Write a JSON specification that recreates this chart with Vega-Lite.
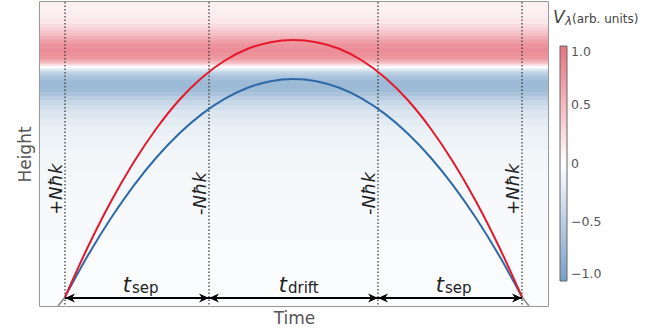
{
  "$schema": "https://vega.github.io/schema/vega-lite/v6.json",
  "width": 508,
  "height": 304,
  "autosize": {"type": "none"},
  "padding": {"left": 40, "top": 2, "right": 119, "bottom": 28},
  "config": {
    "font": "DejaVu Sans",
    "view": {"stroke": "#777", "strokeWidth": 1.5},
    "axis": {"domain": false, "ticks": false, "labels": false, "grid": false, "titleFontSize": 17, "titleFontWeight": "normal", "titleColor": "#555"}
  },
  "datasets": {
    "bands": [
      {"h": 2.96, "h2": 3.04, "v": 0.09},
      {"h": 2.88, "h2": 2.96, "v": 0.12},
      {"h": 2.82, "h2": 2.88, "v": 0.18},
      {"h": 2.79, "h2": 2.82, "v": 0.25},
      {"h": 2.76, "h2": 2.79, "v": 0.32},
      {"h": 2.73, "h2": 2.76, "v": 0.40},
      {"h": 2.70, "h2": 2.73, "v": 0.47},
      {"h": 2.68, "h2": 2.70, "v": 0.55},
      {"h": 2.66, "h2": 2.68, "v": 0.61},
      {"h": 2.64, "h2": 2.66, "v": 0.67},
      {"h": 2.62, "h2": 2.64, "v": 0.72},
      {"h": 2.58, "h2": 2.62, "v": 0.775},
      {"h": 2.54, "h2": 2.58, "v": 0.80},
      {"h": 2.50, "h2": 2.54, "v": 0.79},
      {"h": 2.47, "h2": 2.50, "v": 0.74},
      {"h": 2.45, "h2": 2.47, "v": 0.64},
      {"h": 2.43, "h2": 2.45, "v": 0.50},
      {"h": 2.42, "h2": 2.43, "v": 0.38},
      {"h": 2.41, "h2": 2.42, "v": 0.27},
      {"h": 2.40, "h2": 2.41, "v": 0.16},
      {"h": 2.39, "h2": 2.40, "v": 0.06},
      {"h": 2.38, "h2": 2.39, "v": -0.04},
      {"h": 2.37, "h2": 2.38, "v": -0.13},
      {"h": 2.36, "h2": 2.37, "v": -0.22},
      {"h": 2.35, "h2": 2.36, "v": -0.30},
      {"h": 2.34, "h2": 2.35, "v": -0.37},
      {"h": 2.32, "h2": 2.34, "v": -0.46},
      {"h": 2.30, "h2": 2.32, "v": -0.55},
      {"h": 2.28, "h2": 2.30, "v": -0.62},
      {"h": 2.26, "h2": 2.28, "v": -0.67},
      {"h": 2.22, "h2": 2.26, "v": -0.715},
      {"h": 2.18, "h2": 2.22, "v": -0.725},
      {"h": 2.14, "h2": 2.18, "v": -0.69},
      {"h": 2.10, "h2": 2.14, "v": -0.61},
      {"h": 2.06, "h2": 2.10, "v": -0.51},
      {"h": 2.01, "h2": 2.06, "v": -0.415},
      {"h": 1.96, "h2": 2.01, "v": -0.335},
      {"h": 1.88, "h2": 1.96, "v": -0.265},
      {"h": 1.80, "h2": 1.88, "v": -0.205},
      {"h": 1.70, "h2": 1.80, "v": -0.16},
      {"h": 1.56, "h2": 1.70, "v": -0.125},
      {"h": 1.36, "h2": 1.56, "v": -0.0975},
      {"h": 1.06, "h2": 1.36, "v": -0.075},
      {"h": 0.66, "h2": 1.06, "v": -0.0575},
      {"h": 0.26, "h2": 0.66, "v": -0.0425},
      {"h": 0.00, "h2": 0.26, "v": -0.0325}
    ],
    "red": [
      {"t": 0.25, "h": 0.09}, {"t": 0.4785, "h": 0.59}, {"t": 0.707, "h": 1.04}, {"t": 0.9355, "h": 1.435},
      {"t": 1.164, "h": 1.775}, {"t": 1.3925, "h": 2.06}, {"t": 1.621, "h": 2.285}, {"t": 1.8495, "h": 2.455},
      {"t": 2.078, "h": 2.572}, {"t": 2.3065, "h": 2.638}, {"t": 2.535, "h": 2.66}, {"t": 2.7635, "h": 2.638},
      {"t": 2.992, "h": 2.572}, {"t": 3.2205, "h": 2.455}, {"t": 3.449, "h": 2.285}, {"t": 3.6775, "h": 2.06},
      {"t": 3.906, "h": 1.775}, {"t": 4.1345, "h": 1.435}, {"t": 4.363, "h": 1.04}, {"t": 4.5915, "h": 0.59},
      {"t": 4.82, "h": 0.09}
    ],
    "blue": [
      {"t": 0.25, "h": 0.09}, {"t": 0.4785, "h": 0.504}, {"t": 0.707, "h": 0.875}, {"t": 0.9355, "h": 1.202},
      {"t": 1.164, "h": 1.485}, {"t": 1.3925, "h": 1.725}, {"t": 1.621, "h": 1.921}, {"t": 1.8495, "h": 2.074},
      {"t": 2.078, "h": 2.183}, {"t": 2.3065, "h": 2.248}, {"t": 2.535, "h": 2.27}, {"t": 2.7635, "h": 2.248},
      {"t": 2.992, "h": 2.183}, {"t": 3.2205, "h": 2.074}, {"t": 3.449, "h": 1.921}, {"t": 3.6775, "h": 1.725},
      {"t": 3.906, "h": 1.485}, {"t": 4.1345, "h": 1.202}, {"t": 4.363, "h": 0.875}, {"t": 4.5915, "h": 0.504},
      {"t": 4.82, "h": 0.09}
    ],
    "gray": [
      {"seg": "a", "t": 0.18, "h": 0.0}, {"seg": "a", "t": 0.25, "h": 0.09},
      {"seg": "b", "t": 4.82, "h": 0.09}, {"seg": "b", "t": 4.89, "h": 0.0}
    ],
    "pulses": [
      {"t": 0.25, "label": "+Nħk"}, {"t": 1.69, "label": "-Nħk"}, {"t": 3.38, "label": "-Nħk"}, {"t": 4.82, "label": "+Nħk"}
    ],
    "arrows": [
      {"t": 0.25, "t2": 1.69, "h": 0.08}, {"t": 1.69, "t2": 3.38, "h": 0.08}, {"t": 3.38, "t2": 4.82, "h": 0.08}
    ],
    "heads": [
      {"t": 0.25, "h": 0.08, "dir": "left"}, {"t": 1.69, "h": 0.08, "dir": "right"},
      {"t": 1.69, "h": 0.08, "dir": "left"}, {"t": 3.38, "h": 0.08, "dir": "right"},
      {"t": 3.38, "h": 0.08, "dir": "left"}, {"t": 4.82, "h": 0.08, "dir": "right"}
    ],
    "tlabels": [
      {"t": 0.91, "h": 0.14, "sub": "sep"}, {"t": 2.47, "h": 0.14, "sub": "drift"}, {"t": 4.04, "h": 0.14, "sub": "sep"}
    ],
    "cbtitle": [
      {"t": 5.13, "h": 2.83, "main": "V", "sub": "λ", "unit": "(arb. units)", "ts": 5.25, "tu": 5.32}
    ]
  },
  "layer": [
    {
      "data": {"name": "bands"},
      "mark": {"type": "rect"},
      "encoding": {
        "y": {"field": "h", "type": "quantitative", "scale": {"domain": [0, 3.04], "nice": false, "zero": false}, "axis": {"title": "Height", "titlePadding": 6}},
        "y2": {"field": "h2"},
        "color": {
          "field": "v", "type": "quantitative",
          "scale": {"domain": [-1, 0, 1], "range": ["#769fc6", "#ffffff", "#e7727f"], "interpolate": "rgb"},
          "legend": {
            "type": "gradient",
            "orient": "none", "legendX": 520, "legendY": 44, "direction": "vertical", "title": null,
            "gradientLength": 235, "gradientThickness": 7, "gradientStrokeColor": "#666", "gradientStrokeWidth": 1,
            "labelExpr": "datum.value == 0 ? '0' : format(datum.value, '.1f')",
            "labelFontSize": 12.5, "labelColor": "#555", "labelOffset": 4,
            "encoding": {"labels": {"enter": {"baseline": {"value": "middle"}}, "update": {"baseline": {"value": "middle"}}}}
          }
        }
      }
    },
    {
      "data": {"name": "gray"},
      "mark": {"type": "line", "color": "#888", "strokeWidth": 1.5},
      "encoding": {
        "x": {"field": "t", "type": "quantitative", "scale": {"domain": [0, 5.08], "nice": false, "zero": false}, "axis": {"title": "Time", "titlePadding": 4}},
        "y": {"field": "h", "type": "quantitative"},
        "detail": {"field": "seg"}
      }
    },
    {
      "data": {"name": "pulses"},
      "mark": {"type": "rule", "color": "#333", "strokeWidth": 1.2, "strokeDash": [1.5, 2]},
      "encoding": {"x": {"field": "t", "type": "quantitative"}}
    },
    {
      "data": {"name": "blue"},
      "mark": {"type": "line", "color": "#2e6aa6", "strokeWidth": 2, "interpolate": "monotone"},
      "encoding": {"x": {"field": "t", "type": "quantitative"}, "y": {"field": "h", "type": "quantitative"}}
    },
    {
      "data": {"name": "red"},
      "mark": {"type": "line", "color": "#e31a2c", "strokeWidth": 2, "interpolate": "monotone"},
      "encoding": {"x": {"field": "t", "type": "quantitative"}, "y": {"field": "h", "type": "quantitative"}}
    },
    {
      "data": {"name": "arrows"},
      "mark": {"type": "rule", "color": "#000", "strokeWidth": 1.8},
      "encoding": {"x": {"field": "t", "type": "quantitative"}, "x2": {"field": "t2"}, "y": {"field": "h", "type": "quantitative"}}
    },
    {
      "data": {"name": "heads"},
      "mark": {"type": "point", "filled": true, "color": "#000", "opacity": 1, "size": 100},
      "encoding": {
        "x": {"field": "t", "type": "quantitative"},
        "y": {"field": "h", "type": "quantitative"},
        "shape": {"field": "dir", "type": "nominal", "scale": {"domain": ["left", "right"], "range": ["M0,0L2,-0.9L1.4,0L2,0.9Z", "M0,0L-2,-0.9L-1.4,0L-2,0.9Z"]}, "legend": null}
      }
    },
    {
      "data": {"name": "pulses"},
      "mark": {"type": "text", "angle": 270, "align": "left", "baseline": "alphabetic", "dy": -3, "fontSize": 18, "fontStyle": "italic", "color": "#222"},
      "encoding": {"x": {"field": "t", "type": "quantitative"}, "y": {"datum": 0.91}, "text": {"field": "label"}}
    },
    {
      "data": {"name": "tlabels"},
      "mark": {"type": "text", "align": "right", "baseline": "alphabetic", "fontSize": 21, "fontStyle": "italic", "color": "#222"},
      "encoding": {"x": {"field": "t", "type": "quantitative"}, "y": {"field": "h", "type": "quantitative"}, "text": {"value": "t"}}
    },
    {
      "data": {"name": "tlabels"},
      "mark": {"type": "text", "align": "left", "baseline": "alphabetic", "dx": 1, "dy": 1, "fontSize": 15, "color": "#222"},
      "encoding": {"x": {"field": "t", "type": "quantitative"}, "y": {"field": "h", "type": "quantitative"}, "text": {"field": "sub"}}
    },
    {
      "data": {"name": "cbtitle"},
      "mark": {"type": "text", "align": "left", "baseline": "alphabetic", "fontSize": 17, "fontStyle": "italic", "color": "#444"},
      "encoding": {"x": {"field": "t", "type": "quantitative"}, "y": {"field": "h", "type": "quantitative"}, "text": {"field": "main"}}
    },
    {
      "data": {"name": "cbtitle"},
      "mark": {"type": "text", "align": "left", "baseline": "alphabetic", "dy": 2, "fontSize": 12, "fontStyle": "italic", "color": "#444"},
      "encoding": {"x": {"field": "ts", "type": "quantitative"}, "y": {"field": "h", "type": "quantitative"}, "text": {"field": "sub"}}
    },
    {
      "data": {"name": "cbtitle"},
      "mark": {"type": "text", "align": "left", "baseline": "alphabetic", "fontSize": 12, "color": "#444"},
      "encoding": {"x": {"field": "tu", "type": "quantitative"}, "y": {"field": "h", "type": "quantitative"}, "text": {"field": "unit"}}
    }
  ]
}
